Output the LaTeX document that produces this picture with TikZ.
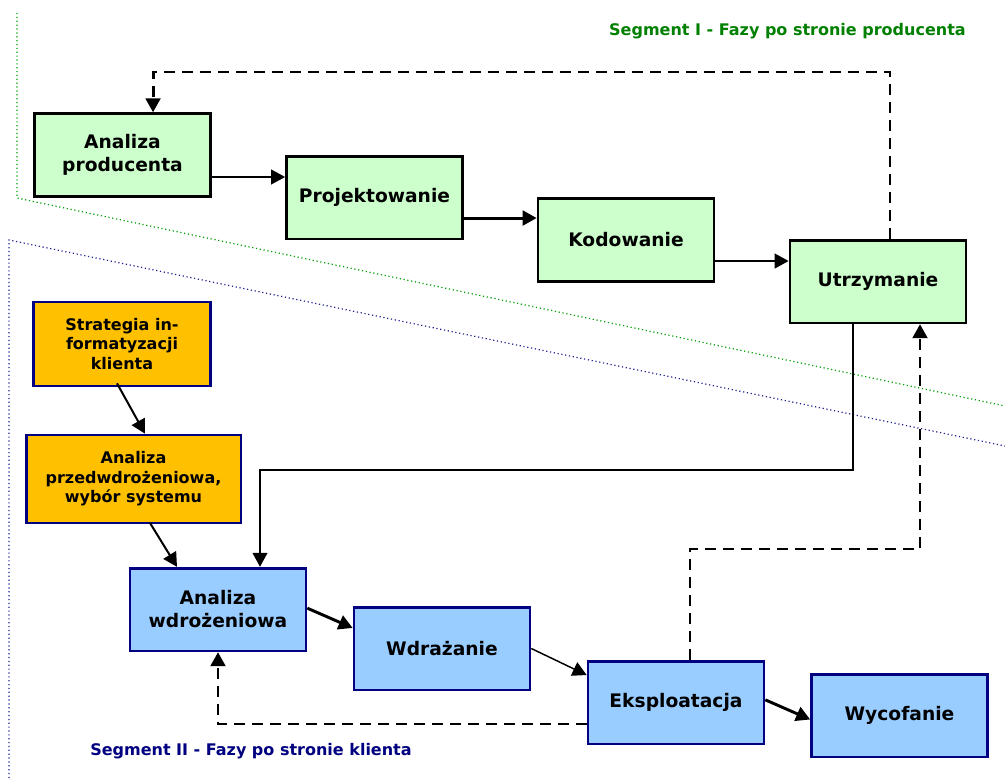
\documentclass[tikz,border=0pt]{standalone}
\usepackage{fontspec}
\setmainfont{DejaVu Sans}
\usetikzlibrary{arrows.meta,calc}
\definecolor{prodfill}{HTML}{CCFFCC}
\definecolor{clientfill}{HTML}{99CCFF}
\definecolor{stratfill}{HTML}{FFC000}
\definecolor{navy}{HTML}{000080}
\definecolor{segI}{HTML}{008000}
\definecolor{dotgreen}{HTML}{00A000}
\definecolor{dotblue}{HTML}{202090}
\tikzset{
  phase/.style={draw, line width=2pt, align=center, inner sep=0pt,
    font=\bfseries\fontsize{14}{17.25}\selectfont},
  prodbox/.style={phase, draw=black, fill=prodfill,
    minimum width=132pt, minimum height=62pt},
  clientbox/.style={phase, draw=navy, fill=clientfill,
    minimum width=132pt, minimum height=62pt},
  stratbox/.style={phase, draw=navy, fill=stratfill,
    font=\bfseries\fontsize{12}{14.6}\selectfont},
  tip/.style={-{Triangle[length=10.5pt,width=11pt]}},
  flow/.style={tip, line width=1.5pt},
  flowthick/.style={tip, line width=2.2pt},
  flowthin/.style={tip, line width=1.1pt},
  back/.style={tip, line width=2.2pt, dash pattern=on 8.25pt off 5.25pt},
  border/.style={line width=0.9pt, dash pattern=on 0.9pt off 2pt},
  seglabel/.style={font=\bfseries\fontsize{12}{14}\selectfont, inner sep=0pt}
}
\begin{document}
\begin{tikzpicture}[x=0.75pt,y=-0.75pt]
\useasboundingbox (0,0) rectangle (1005,778);

% segment borders
\draw[border, dotgreen] (17,13) -- (17,198) -- (1005,406);
\draw[border, dotblue] (9,778) -- (9,240) -- (1005,446);

% segment titles
\node[seglabel, text=segI, anchor=east] (t1) at (966,31) {Segment I - Fazy po stronie producenta};
\node[seglabel, text=navy, anchor=west] (t2) at (90,751) {Segment II - Fazy po stronie klienta};

% producer phases
\node[prodbox] (ap) at (122.5,155) {Analiza\\producenta};
\node[prodbox] (pr) at (374.5,197.5) {Projektowanie};
\node[prodbox] (ko) at (626,240) {Kodowanie};
\node[prodbox] (ut) at (878,281.5) {Utrzymanie};

% client phases
\node[stratbox, minimum width=133pt, minimum height=63pt] (st) at (122,344) {Strategia in-\\formatyzacji\\klienta};
\node[stratbox, minimum width=161pt, minimum height=66pt] (pw) at (133.5,479) {Analiza\\przedwdrożeniowa,\\wybór systemu};
\node[clientbox] (aw) at (218,609.5) {Analiza\\wdrożeniowa};
\node[clientbox] (wd) at (442,648.5) {Wdrażanie};
\node[clientbox] (ek) at (676,702.5) {Eksploatacja};
\node[clientbox] (wy) at (899.5,715.5) {Wycofanie};

% bend points of the loops
\coordinate (topline) at (500,72);
\coordinate (midline) at (500,470);
\coordinate (lowline) at (500,549);

% main flow, producer side
\draw[flow] ([yshift=-16.5pt]ap.east) -- ([yshift=-16.5pt]ap.east -| pr.west);
\draw[flowthick] ([yshift=-15.4pt]pr.east) -- ([yshift=-15.4pt]pr.east -| ko.west);
\draw[flow] ([yshift=-15.75pt]ko.east) -- ([yshift=-15.75pt]ko.east -| ut.west);

% maintenance feeds back to producer analysis
\draw[back] ([xshift=9pt]ut.north) -- ([xshift=9pt]ut.north |- topline) -| ([xshift=22.9pt]ap.north);

% maintenance hands over to client deployment analysis
\draw[flow] ([xshift=-18.75pt]ut.south) -- ([xshift=-18.75pt]ut.south |- midline) -| ([xshift=31.5pt]aw.north);

% client side
\draw[flow] ([xshift=-3.75pt,yshift=3pt]st.south) -- ([xshift=8.6pt]pw.north);
\draw[flow] ([xshift=12.4pt,yshift=1pt]pw.south) -- ([xshift=-30.75pt]aw.north);
\draw[flowthick] ([yshift=1pt]aw.east) -- ([yshift=15.4pt]wd.west);
\draw[flowthin] (wd.east) -- ([yshift=20.6pt]ek.west);
\draw[flowthick] ([yshift=2pt]ek.east) -- ([yshift=-3pt]wy.west);

% operation feedback loops
\draw[back] ([yshift=-16.1pt]ek.west) -| (aw.south);
\draw[back] ([xshift=10.5pt]ek.north) -- ([xshift=10.5pt]ek.north |- lowline) -| ([xshift=31.5pt]ut.south);
\end{tikzpicture}
\end{document}
